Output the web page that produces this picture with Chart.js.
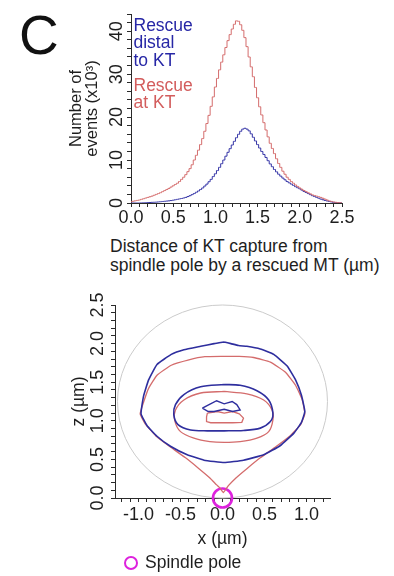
<!DOCTYPE html>
<html>
<head>
<meta charset="utf-8">
<script src="https://cdn.jsdelivr.net/npm/chart.js@4.4.0/dist/chart.umd.min.js"></script>
<style>
  body { margin: 0; background: #fff; width: 394px; height: 576px; position: relative; overflow: hidden;
         font-family: "Liberation Sans", Arial, sans-serif; color: #1e1e1e; }
  canvas { position: absolute; left: 0; }
  #histo { top: 0; }
  #contour { top: 285px; }
  .txt { position: absolute; white-space: nowrap; }
  .pole { position: absolute; left: 124px; top: 556px; width: 10px; height: 10px;
          border: 2.6px solid #dd22dd; border-radius: 50%; }
</style>
</head>
<body>
<canvas id="histo" width="394" height="232"></canvas>
<canvas id="contour" width="394" height="291"></canvas>

<div class="txt" style="left:19px;top:8px;font-size:55px;line-height:55px;color:#111">C</div>
<div class="txt" style="left:133.5px;top:16.7px;font-size:17.5px;line-height:17.8px;color:#2727a6">Rescue<br>distal<br>to KT</div>
<div class="txt" style="left:133.5px;top:76.7px;font-size:17.5px;line-height:17.8px;color:#d35d5d">Rescue<br>at KT</div>
<div class="txt" style="left:110px;top:237.4px;font-size:17.5px;line-height:19px">Distance of KT capture from<br>spindle pole by a rescued MT (µm)</div>
<div class="pole"></div>
<div class="txt" style="left:145px;top:552.4px;font-size:17.5px;line-height:20px">Spindle pole</div>

<script>
// ---- top panel: capture distance histograms (x10^3 events) ----
const distance = [0.000,0.025,0.050,0.075,0.100,0.125,0.150,0.175,0.200,0.225,0.250,0.275,0.300,0.325,0.350,0.375,
  0.400,0.425,0.450,0.475,0.500,0.525,0.550,0.575,0.600,0.625,0.650,0.675,0.700,0.725,0.750,0.775,
  0.800,0.825,0.850,0.875,0.900,0.925,0.950,0.975,1.000,1.025,1.050,1.075,1.100,1.125,1.150,1.175,
  1.200,1.225,1.250,1.275,1.300,1.325,1.350,1.375,1.400,1.425,1.450,1.475,1.500,1.525,1.550,1.575,
  1.600,1.625,1.650,1.675,1.700,1.725,1.750,1.775,1.800,1.825,1.850,1.875,1.900,1.925,1.950,1.975,
  2.000,2.025,2.050,2.075,2.100,2.125,2.150,2.175,2.200,2.225,2.250,2.275,2.300,2.325,2.350,2.375,
  2.400,2.425,2.450,2.475,2.500];
const rescueAtKT = [0.3,0.4,0.5,0.6,0.7,0.85,1.0,1.15,1.3,1.45,1.6,1.8,2.0,2.2,2.4,2.65,
  2.9,3.15,3.4,3.7,4.0,4.3,4.6,5.0,5.5,6.0,6.6,7.3,8.0,8.9,10.0,11.1,
  12.3,13.6,15.0,16.7,18.5,20.4,22.5,24.7,27.0,29.0,31.0,32.8,34.5,36.2,37.8,39.2,
  40.5,41.6,42.4,42.3,41.5,40.2,38.5,36.4,34.0,31.7,29.4,26.9,24.5,22.4,20.5,18.7,
  17.0,15.4,13.9,12.7,11.5,10.3,9.2,8.3,7.4,6.7,6.0,5.5,5.0,4.6,4.2,3.85,
  3.5,3.2,2.9,2.65,2.4,2.15,1.9,1.75,1.6,1.45,1.3,1.1,0.9,0.7,0.5,0.37,
  0.25,0.17,0.1,0.05,0];
const rescueDistal = [0,0,0,0,0,0.02,0.05,0.07,0.1,0.12,0.15,0.17,0.2,0.25,0.3,0.35,
  0.4,0.45,0.5,0.57,0.65,0.75,0.85,0.95,1.05,1.17,1.3,1.5,1.7,1.95,2.2,2.5,
  2.8,3.15,3.5,3.95,4.4,4.95,5.5,6.15,6.8,7.55,8.3,9.15,10.0,10.9,11.8,12.65,
  13.5,14.35,15.2,16.0,16.7,17.2,17.4,17.2,16.8,16.1,15.3,14.45,13.6,12.8,12.0,11.3,
  10.6,9.85,9.1,8.45,7.8,7.25,6.7,6.25,5.8,5.4,5.0,4.7,4.4,4.1,3.8,3.55,
  3.3,3.0,2.7,2.45,2.2,1.95,1.7,1.5,1.3,1.1,0.9,0.75,0.6,0.47,0.35,0.25,
  0.15,0.1,0.05,0.02,0];

// ---- bottom panel: capture position contours, [x, z] in µm ----
const outerDistal = [[0.02,2.02],[0.10,2.00],[0.19,1.975],[0.29,1.965],[0.45,1.93],[0.61,1.86],[0.77,1.71],[0.87,1.53],
  [0.94,1.33],[0.98,1.12],[0.94,0.98],[0.85,0.84],[0.69,0.68],[0.49,0.56],[0.25,0.49],[0.02,0.46],[-0.22,0.49],
  [-0.42,0.56],[-0.62,0.67],[-0.78,0.80],[-0.90,0.94],[-0.97,1.09],[-0.94,1.32],[-0.88,1.53],[-0.78,1.73],
  [-0.61,1.86],[-0.46,1.92],[-0.26,1.965],[-0.10,2.00],[0.02,2.02]];
const outerAtKT = [[0.02,1.835],[0.20,1.835],[0.37,1.82],[0.57,1.76],[0.75,1.63],[0.87,1.46],[0.95,1.27],[0.98,1.09],
  [0.93,0.95],[0.80,0.80],[0.63,0.66],[0.45,0.52],[0.29,0.38],[0.16,0.26],[0.07,0.16],[0.01,0.07],[-0.03,0.13],
  [-0.07,0.17],[-0.15,0.26],[-0.28,0.38],[-0.44,0.52],[-0.62,0.66],[-0.79,0.80],[-0.92,0.96],[-0.98,1.09],
  [-0.94,1.24],[-0.88,1.42],[-0.78,1.59],[-0.61,1.72],[-0.40,1.79],[-0.21,1.83],[0.02,1.835]];
const innerDistal = [[0.02,1.47],[0.21,1.46],[0.41,1.39],[0.55,1.27],[0.60,1.10],[0.57,0.99],[0.45,0.905],[0.25,0.875],
  [0.02,0.87],[-0.18,0.87],[-0.38,0.88],[-0.53,0.95],[-0.58,1.08],[-0.56,1.21],[-0.46,1.34],[-0.26,1.44],[0.02,1.47]];
const innerAtKT = [[0.02,1.38],[0.29,1.35],[0.49,1.27],[0.59,1.14],[0.60,1.01],[0.55,0.86],[0.41,0.775],[0.21,0.73],
  [0.02,0.72],[-0.15,0.73],[-0.34,0.775],[-0.50,0.86],[-0.57,1.01],[-0.56,1.14],[-0.46,1.27],[-0.26,1.36],[0.02,1.38]];
const coreDistal = [[-0.24,1.165],[-0.16,1.21],[-0.07,1.26],[0.02,1.22],[0.115,1.25],[0.17,1.21],[0.21,1.14],
  [0.12,1.12],[0.02,1.15],[-0.10,1.12],[-0.17,1.12],[-0.24,1.165]];
const coreAtKT = [[-0.18,1.10],[-0.06,1.12],[0.02,1.10],[0.12,1.12],[0.20,1.09],[0.25,1.035],[0.23,0.98],[0.12,0.975],
  [0.02,0.975],[-0.14,0.975],[-0.19,0.99],[-0.19,1.05],[-0.18,1.10]];
const spindlePole = [[0, 0]];
const sphereCenter = [0, 1.25];
const sphereRadius = 1.25;

const blue = '#3434a6';
const red = '#d46c6c';
const axisColor = '#2a2a2a';

Chart.defaults.font.family = '"Liberation Sans", Arial, sans-serif';
Chart.defaults.color = '#1e1e1e';

const toXY = pts => pts.map(p => ({x: p[0], y: p[1]}));
const onHalf = v => Math.abs(v * 2 - Math.round(v * 2)) < 1e-6;

function axis(extra) {
  return Object.assign({
    type: 'linear',
    border: {display: true, color: axisColor, width: 1},
    grid: {display: true, drawOnChartArea: false, drawTicks: true, tickLength: 4, color: axisColor}
  }, extra);
}

new Chart(document.getElementById('histo'), {
  type: 'scatter',
  data: {
    datasets: [
      {label: 'Rescue at KT', data: distance.map((d, i) => ({x: d, y: rescueAtKT[i]})),
       showLine: true, stepped: 'middle', borderColor: red, borderWidth: 1, pointRadius: 0},
      {label: 'Rescue distal to KT', data: distance.map((d, i) => ({x: d, y: rescueDistal[i]})),
       showLine: true, stepped: 'middle', borderColor: blue, borderWidth: 1, pointRadius: 0}
    ]
  },
  options: {
    responsive: false,
    animation: false,
    layout: {padding: {top: 14, right: 52, left: 0, bottom: 0}},
    plugins: {legend: {display: false}, tooltip: {enabled: false}},
    scales: {
      x: axis({
        min: 0, max: 2.5,
        ticks: {stepSize: 0.1, autoSkip: false, maxRotation: 0, padding: 0, font: {size: 18},
                callback: v => onHalf(v) ? v.toFixed(1) : ''},
        afterFit: s => { s.height = 29; }
      }),
      y: axis({
        min: 0, max: 44,
        ticks: {stepSize: 2, autoSkip: false, minRotation: 90, maxRotation: 90, crossAlign: 'center', padding: 0,
                font: {size: 18}, callback: v => v % 10 === 0 ? v : ''},
        title: {display: true, text: ['Number of', 'events (x10³)'], font: {size: 16.5, lineHeight: 1},
                padding: {top: 67.75, bottom: 0}},
        afterFit: s => { s.width = 131; }
      })
    }
  }
});

const sphereOutline = {
  id: 'sphereOutline',
  beforeDatasetsDraw(chart) {
    const {ctx, scales: {x, y}} = chart;
    const cx = x.getPixelForValue(sphereCenter[0]);
    const cy = y.getPixelForValue(sphereCenter[1]);
    const rx = x.getPixelForValue(sphereCenter[0] + sphereRadius) - cx;
    const ry = cy - y.getPixelForValue(sphereCenter[1] + sphereRadius);
    ctx.save();
    ctx.strokeStyle = '#cbcbcb';
    ctx.lineWidth = 1;
    ctx.beginPath();
    ctx.ellipse(cx, cy, rx, ry, 0, 0, Math.PI * 2);
    ctx.stroke();
    ctx.restore();
  }
};

function contour(label, pts, color, width, tension) {
  return {label, data: toXY(pts), showLine: true, borderColor: color, borderWidth: width,
          pointRadius: 0, tension: tension};
}

new Chart(document.getElementById('contour'), {
  type: 'scatter',
  data: {
    datasets: [
      contour('distal outer', outerDistal, '#2e2e9e', 1.6, 0.12),
      contour('at KT outer', outerAtKT, red, 1.3, 0.12),
      contour('distal inner', innerDistal, '#2e2e9e', 1.6, 0.3),
      contour('at KT inner', innerAtKT, red, 1.3, 0.3),
      contour('distal core', coreDistal, '#2e2e9e', 1.4, 0),
      contour('at KT core', coreAtKT, red, 1.3, 0),
      {label: 'Spindle pole', data: toXY(spindlePole), pointStyle: 'circle', pointRadius: 9.5,
       pointBorderWidth: 2.6, pointBorderColor: '#dd22dd', pointBackgroundColor: 'rgba(0,0,0,0)', clip: false}
    ]
  },
  options: {
    responsive: false,
    animation: false,
    layout: {padding: {top: 20, right: 64, left: 0, bottom: 0}},
    plugins: {legend: {display: false}, tooltip: {enabled: false}},
    scales: {
      x: axis({
        min: -1.28, max: 1.28,
        ticks: {stepSize: 0.1, includeBounds: false, autoSkip: false, maxRotation: 0, padding: 2, font: {size: 18},
                callback: v => onHalf(v) ? v.toFixed(1) : ''},
        title: {display: true, text: 'x (µm)', font: {size: 17.5}, padding: {top: 0, bottom: 26.5}},
        afterFit: s => { s.height = 78; }
      }),
      y: axis({
        min: 0, max: 2.5,
        ticks: {stepSize: 0.1, autoSkip: false, minRotation: 90, maxRotation: 90, crossAlign: 'center', padding: 0,
                font: {size: 18}, callback: v => onHalf(v) ? v.toFixed(1) : ''},
        title: {display: true, text: 'z (µm)', font: {size: 17.5, lineHeight: 1}, padding: {top: 70, bottom: 0}},
        afterFit: s => { s.width = 115; }
      })
    }
  },
  plugins: [sphereOutline]
});
</script>
</body>
</html>
